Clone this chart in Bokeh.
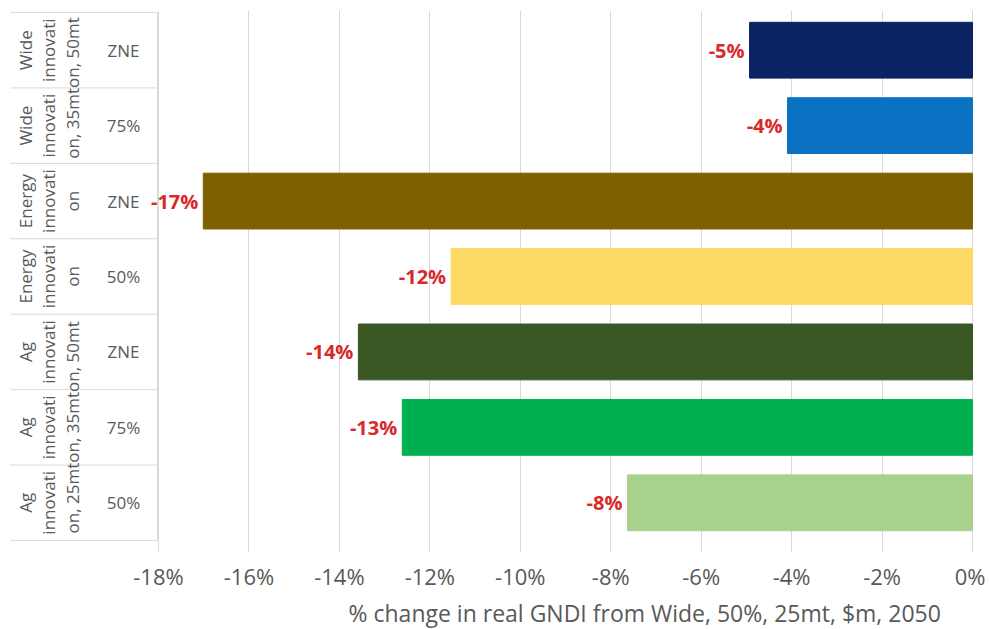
import numpy as np
from bokeh.plotting import figure
from bokeh.models import Range1d, FixedTicker, PrintfTickFormatter, ColumnDataSource, Title
from bokeh.core.properties import value
from bokeh.embed import file_html
from bokeh.resources import INLINE

# ---- data (top row first) ----
outer_line1 = ["Wide", "Wide", "Energy", "Energy", "Ag", "Ag", "Ag"]
outer_line2 = ["innovati", "innovati", "innovati", "innovati", "innovati", "innovati", "innovati"]
inner_labels = ["ZNE", "75%", "ZNE", "50%", "ZNE", "75%", "50%"]
group3_labels = ["on, 35mton, 50mt", "on", "on", "on, 25mton, 35mton, 50mt"]
group3_rows = [(0, 1), (2, 2), (3, 3), (4, 6)]
values = [-4.93, -4.09, -17.01, -11.53, -13.58, -12.61, -7.63]
colors = ["#0B2265", "#0A72C2", "#7F6000", "#FFD966", "#385723", "#00B050", "#A9D18E"]
xticks = [-18, -16, -14, -12, -10, -8, -6, -4, -2, 0]
x_title = "% change in real GNDI from Wide, 50%, 25mt, $m, 2050"

n = len(values)
ypos = [n - 1 - i for i in range(n)]
labels = ["%d%%" % round(v) for v in values]

FONT = "Open Sans"
GREY = "#595959"

px_per_unit = 45.22
label_area = 150
x_start = -18 - label_area / px_per_unit
x_end = 0 + 1 / px_per_unit
frame_w = (x_end - x_start) * px_per_unit

row_px = 75.71
y_end = 6.5 + 2 / row_px
y_start = y_end - 544 / row_px

p = figure(width=985, height=629, output_backend="svg", toolbar_location=None,
           x_range=Range1d(x_start, x_end), y_range=Range1d(y_start, y_end),
           min_border_left=8, min_border_right=12, min_border_top=10, min_border_bottom=75)
p.extra_x_ranges = {"lab": Range1d(0, frame_w)}
p.outline_line_color = None
p.background_fill_color = "white"

# bars
src = ColumnDataSource(dict(y=ypos, v=values, c=colors, lab=labels))
p.hbar(y="y", left="v", right=0, height=0.74, color="c", source=src)

# data labels
p.text(x="v", y="y", text="lab", source=src, x_offset=-5, text_align="right",
       text_baseline="middle", text_color="#D8292B", text_font=value(FONT),
       text_font_size="20px", text_font_style="bold")

# axes & grid
p.yaxis.visible = False
p.ygrid.grid_line_color = None
p.xaxis.ticker = FixedTicker(ticks=xticks)
p.xgrid.ticker = FixedTicker(ticks=xticks)
p.xgrid.grid_line_color = "#D9D9D9"
p.xaxis.formatter = PrintfTickFormatter(format="%d%%")
p.xaxis.axis_line_color = None
p.xaxis.major_tick_line_color = None
p.xaxis.minor_tick_line_color = None
p.xaxis.major_label_text_font = FONT
p.xaxis.major_label_text_font_size = "22px"
p.xaxis.major_label_text_color = GREY
p.xaxis.major_label_standoff = 2

t = Title(text=x_title, align="left", offset=340, text_font=FONT,
          text_font_size="23px", text_font_style="normal", text_color=GREY, standoff=2)
p.add_layout(t, "below")

# category label area (x in pixels from frame left via "lab" range)
bounds = [n - 1 - i + 0.5 for i in range(n)] + [-0.5]
p.segment(x0=[2] * len(bounds), x1=[149] * len(bounds), y0=bounds, y1=bounds,
          x_range_name="lab", line_color="#D9D9D9", line_width=1)
p.segment(x0=[149], x1=[149], y0=[-0.5], y1=[n - 0.5], x_range_name="lab",
          line_color="#D9D9D9", line_width=1)

common = dict(x_range_name="lab", text_align="center", text_baseline="middle",
              text_font=value(FONT), text_font_size="17px", text_color=GREY)
p.text(x=[17] * n, y=ypos, text=outer_line1, angle=np.pi / 2, **common)
p.text(x=[40] * n, y=ypos, text=outer_line2, angle=np.pi / 2, **common)
g3_y = [n - 1 - (a + b) / 2 for a, b in group3_rows]
p.text(x=[64] * len(group3_labels), y=g3_y, text=group3_labels, angle=np.pi / 2, **common)
p.text(x=[115] * n, y=ypos, text=inner_labels, **common)

open("out.html", "w").write(file_html(p, INLINE))
